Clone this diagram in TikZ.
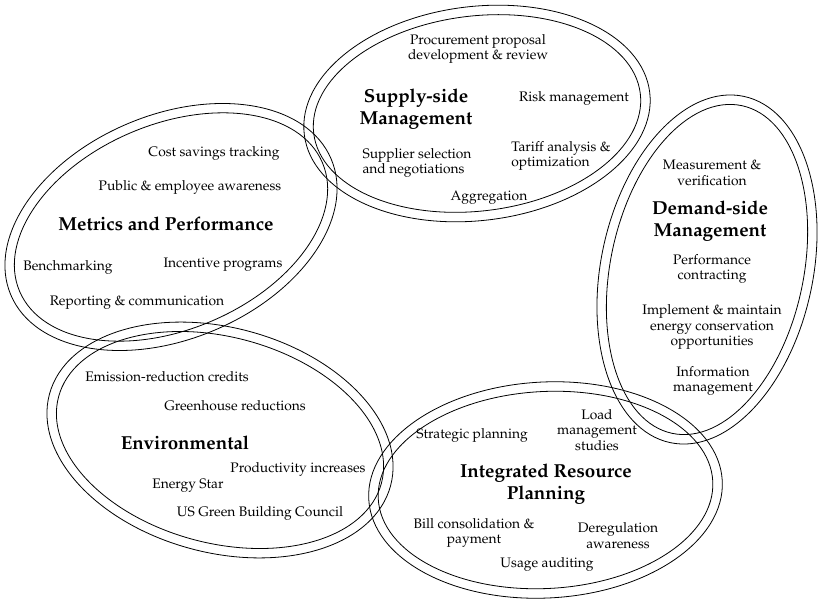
\documentclass[tikz,border=0pt]{standalone}
\usepackage[T1]{fontenc}
\usepackage{mathpazo}
\tikzset{
	item/.style={font=\fontsize{13.8}{15.8}\selectfont, align=center, inner sep=0pt},
	head/.style={font=\fontsize{18.8}{21.5}\selectfont\bfseries, align=center, inner sep=0pt},
	ring/.style={line width=0.8pt}
}

\begin{document}
\begin{tikzpicture}[x=1pt,y=1pt]
		\useasboundingbox (0,0) rectangle (818,600);
		% double rings: centre x / centre y / x radius / y radius / tilt
		\foreach \cx/\cy/\rx/\ry/\rot in {171/373/174/112/23, 477/486.5/174/107/7, 707/330.5/106/177/-12, 220/160/176.6/112.5/-15, 545.5/110/177/108/3}{
			\draw[ring, rotate around={\rot:(\cx,\cy)}] (\cx,\cy) ellipse [x radius=\rx, y radius=\ry];
			\draw[ring, rotate around={\rot:(\cx,\cy)}] (\cx,\cy) ellipse [x radius=\rx-9.5, y radius=\ry-9.5];
		}

		% metrics and performance
		\node[head] (metrics) at (166,376) {Metrics and Performance};
		\node[item] (cost) at (214,447) {Cost savings tracking};
		\node[item] (public) at (190,413) {Public \& employee awareness};
		\node[item] (bench) at (68,333) {Benchmarking};
		\node[item] (incent) at (223,335) {Incentive programs};
		\node[item] (report) at (137,297) {Reporting \& communication};

		% supply side
		\node[head] (supply) at (416,491) {Supply-side\\Management};
		\node[item] (procure) at (478,551) {Procurement proposal\\development \& review};
		\node[item] (risk) at (574,502) {Risk management};
		\node[item, align=left] (tariff) at (561,444) {Tariff analysis \&\\optimization};
		\node[item, align=left] (supplier) at (417,437) {Supplier selection\\and negotiations};
		\node[item] (aggr) at (489,402) {Aggregation};

		% demand side
		\node[head] (demand) at (710,379) {Demand-side\\Management};
		\node[item] (measure) at (712,427) {Measurement \&\\verification};
		\node[item] (perform) at (712,331) {Performance\\contracting};
		\node[item] (implement) at (712,273) {Implement \& maintain\\energy conservation\\opportunities};
		\node[item] (info) at (713,219) {Information\\management};

		% integrated resource planning
		\node[head] (irp) at (546,116) {Integrated Resource\\Planning};
		\node[item] (strategic) at (472,165) {Strategic planning};
		\node[item] (load) at (597,170) {Load\\management\\studies};
		\node[item] (bill) at (474,67) {Bill consolidation \&\\payment};
		\node[item] (dereg) at (618,64) {Deregulation\\awareness};
		\node[item] (usage) at (547,36) {Usage auditing};

		% environmental
		\node[head] (env) at (185,157) {Environmental};
		\node[item] (emission) at (167,223) {Emission-reduction credits};
		\node[item] (green) at (235,194) {Greenhouse reductions};
		\node[item] (product) at (298,131) {Productivity increases};
		\node[item] (estar) at (188,114) {Energy Star};
		\node[item] (usgbc) at (260,87) {US Green Building Council};
	\end{tikzpicture}
\end{document}
